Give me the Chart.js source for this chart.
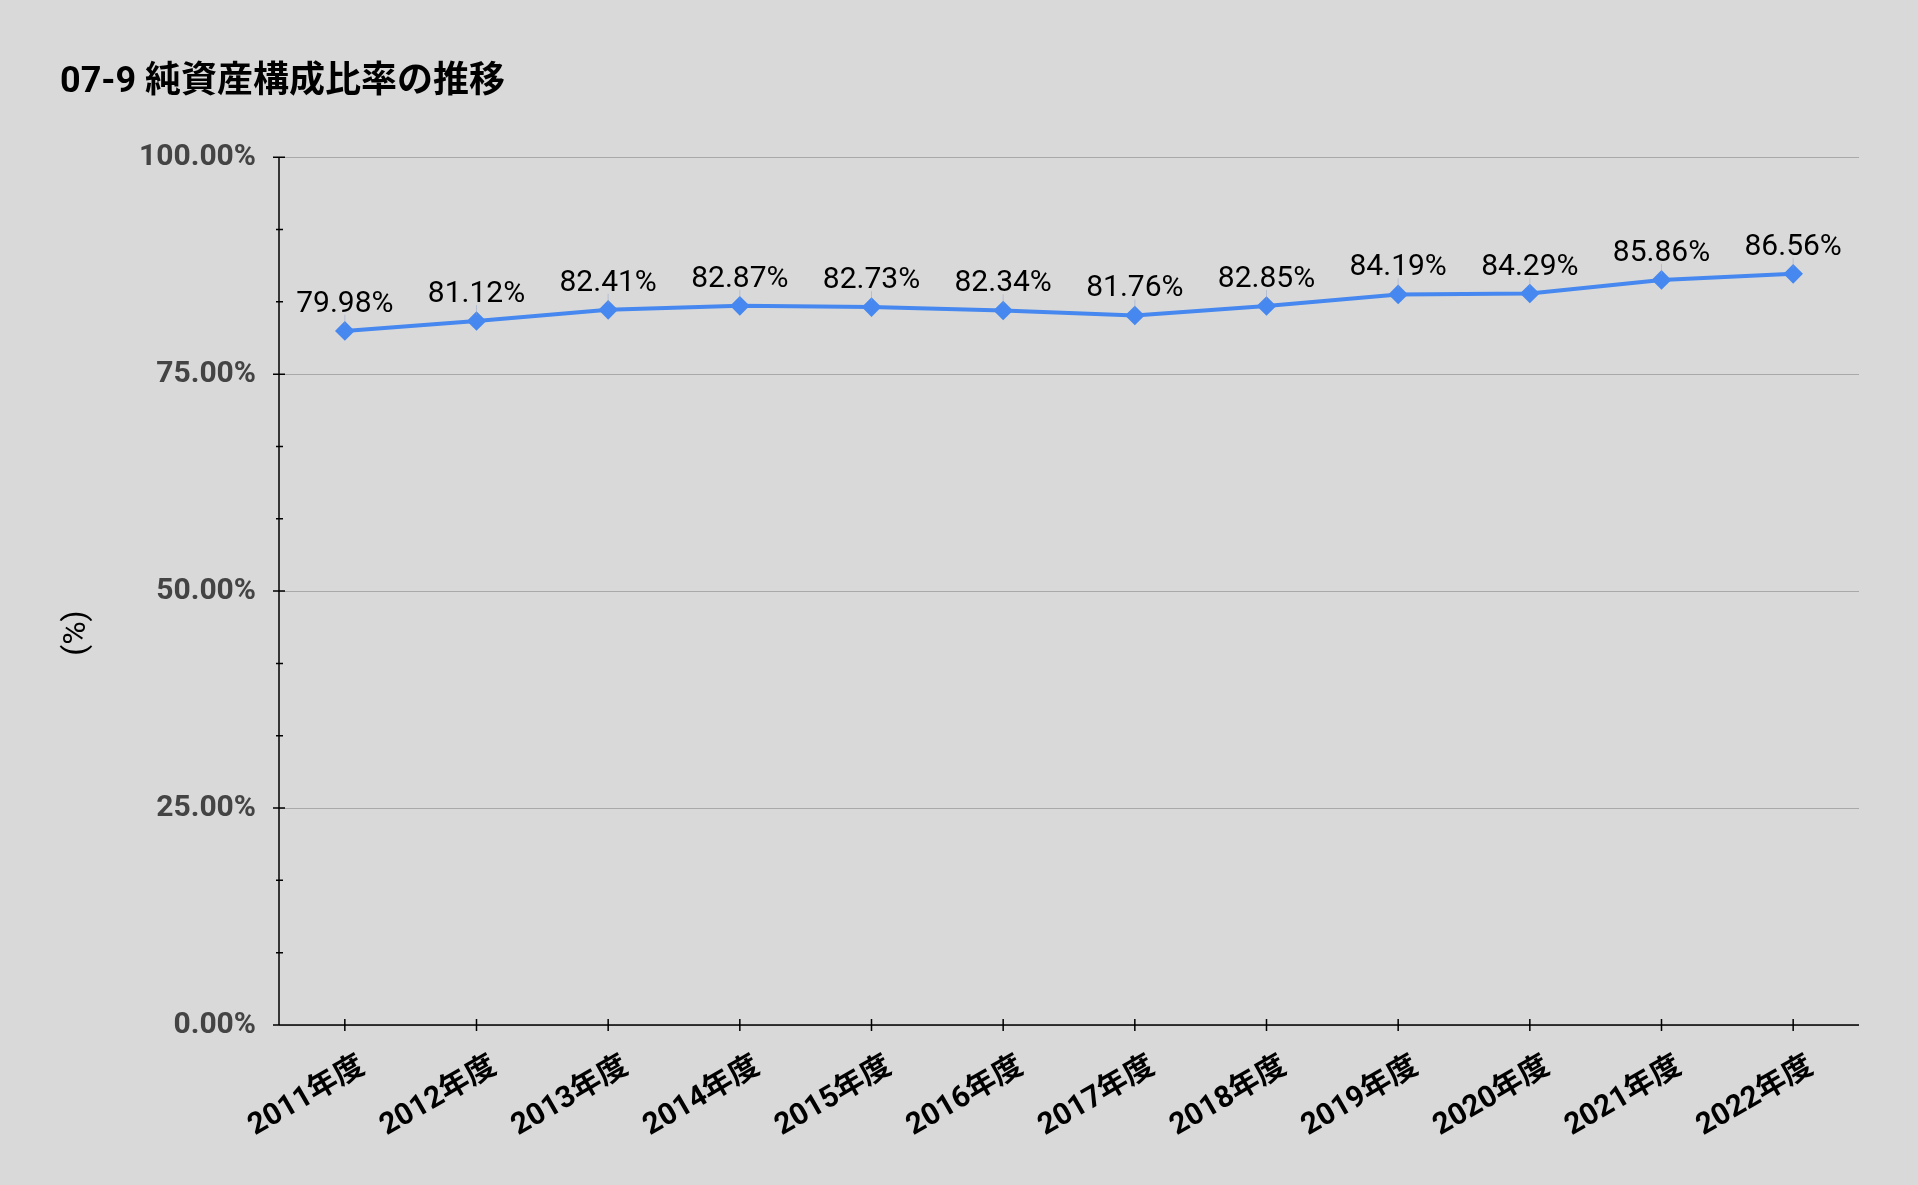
<!DOCTYPE html>
<html>
<head>
<meta charset="utf-8">
<script src="https://cdn.jsdelivr.net/npm/chart.js@4"></script>
<style>
  html, body { margin: 0; padding: 0; background: #d9d9d9; }
  #wrap { width: 1918px; height: 1185px; position: relative; }
</style>
</head>
<body>
<div id="wrap"><canvas id="ratioChart"></canvas></div>
<script>
const titleText = '07-9 純資産構成比率の推移';
const axisTitle = '(%)';
const years = ['2011年度', '2012年度', '2013年度', '2014年度', '2015年度', '2016年度',
               '2017年度', '2018年度', '2019年度', '2020年度', '2021年度', '2022年度'];
const netAssetRatio = [79.98, 81.12, 82.41, 82.87, 82.73, 82.34, 81.76, 82.85, 84.19, 84.29, 85.86, 86.56];
const yTicks = [0, 25, 50, 75, 100];

const fmt = v => v.toFixed(2) + '%';

// axis lines with ticks crossing the axis, plus minor ticks on y
const axesPlugin = {
    id: 'axes',
    afterDatasetsDraw(chart) {
        const { ctx, chartArea: a, scales: { x, y } } = chart;
        ctx.save();
        ctx.strokeStyle = '#000';
        ctx.lineWidth = 1.5;
        ctx.beginPath();
        ctx.moveTo(a.left, y.getPixelForValue(100));
        ctx.lineTo(a.left, a.bottom);
        ctx.moveTo(a.left - 6, a.bottom);
        ctx.lineTo(a.right, a.bottom);
        yTicks.forEach(v => {
            const py = y.getPixelForValue(v);
            ctx.moveTo(a.left - 6, py);
            ctx.lineTo(a.left + 6, py);
        });
        for (let v = 0; v < 100; v += 25) {
            [v + 25 / 3, v + 50 / 3].forEach(m => {
                const py = y.getPixelForValue(m);
                ctx.moveTo(a.left - 3, py);
                ctx.lineTo(a.left + 4, py);
            });
        }
        years.forEach((_, i) => {
            const px = x.getPixelForValue(i);
            ctx.moveTo(px, a.bottom - 6);
            ctx.lineTo(px, a.bottom + 6);
        });
        ctx.stroke();

        // y axis title, centred on plot + label band
        ctx.fillStyle = '#000';
        ctx.font = '32px Roboto';
        ctx.textAlign = 'center';
        ctx.textBaseline = 'middle';
        ctx.translate(77, 633);
        ctx.rotate(-Math.PI / 2);
        ctx.fillText(axisTitle, 0, 0);
        ctx.restore();
    }
};

// value labels above each point
const valueLabels = {
    id: 'valueLabels',
    afterDatasetsDraw(chart) {
        const { ctx } = chart;
        const meta = chart.getDatasetMeta(0);
        ctx.save();
        ctx.font = '30px Roboto';
        ctx.textAlign = 'center';
        ctx.textBaseline = 'alphabetic';
        meta.data.forEach((pt, i) => {
            ctx.strokeStyle = 'rgba(140,160,200,0.45)';
            ctx.lineWidth = 1;
            ctx.beginPath();
            ctx.moveTo(pt.x, pt.y - 6);
            ctx.lineTo(pt.x, pt.y - 16);
            ctx.stroke();
            ctx.fillStyle = '#000';
            ctx.fillText(fmt(netAssetRatio[i]), pt.x, pt.y - 19);
        });
        ctx.restore();
    }
};

const ctx = document.getElementById('ratioChart').getContext('2d');
new Chart(ctx, {
    type: 'line',
    data: {
        labels: years,
        datasets: [{
            label: '純資産構成比率',
            data: netAssetRatio,
            borderColor: '#4688ef',
            backgroundColor: '#4688ef',
            borderWidth: 4,
            pointStyle: 'rectRot',
            pointRadius: 7,
            pointHoverRadius: 7,
            tension: 0
        }]
    },
    options: {
        responsive: true,
        maintainAspectRatio: false,
        animation: false,
        layout: { padding: { left: 60, right: 59, top: 0, bottom: 0 } },
        plugins: {
            legend: { display: false },
            tooltip: { enabled: false },
            title: {
                display: true,
                text: titleText,
                align: 'start',
                color: '#000',
                font: { family: 'Roboto, "Noto Sans CJK JP"', size: 36, weight: 'bold' },
                padding: { top: 61, bottom: 53 }
            }
        },
        scales: {
            x: {
                offset: true,
                grid: { display: false, drawTicks: false },
                border: { display: false },
                afterFit: s => { s.height = 160; },
                ticks: {
                    autoSkip: false,
                    minRotation: 30,
                    maxRotation: 30,
                    padding: 24,
                    labelOffset: 18,
                    color: '#000',
                    font: { family: 'Roboto, "Noto Sans CJK JP"', size: 30, weight: 'bold' }
                }
            },
            y: {
                min: 0,
                max: 100,
                afterFit: s => { s.width = 219; },
                afterBuildTicks: s => { s.ticks = yTicks.map(v => ({ value: v })); },
                grid: { color: '#a9a9a9', lineWidth: 1, drawTicks: false },
                border: { display: false },
                ticks: {
                    padding: 23,
                    color: '#444',
                    font: { family: 'Roboto', size: 30, weight: 'bold' },
                    callback: v => fmt(v)
                }
            }
        }
    },
    plugins: [axesPlugin, valueLabels]
});
</script>
</body>
</html>
